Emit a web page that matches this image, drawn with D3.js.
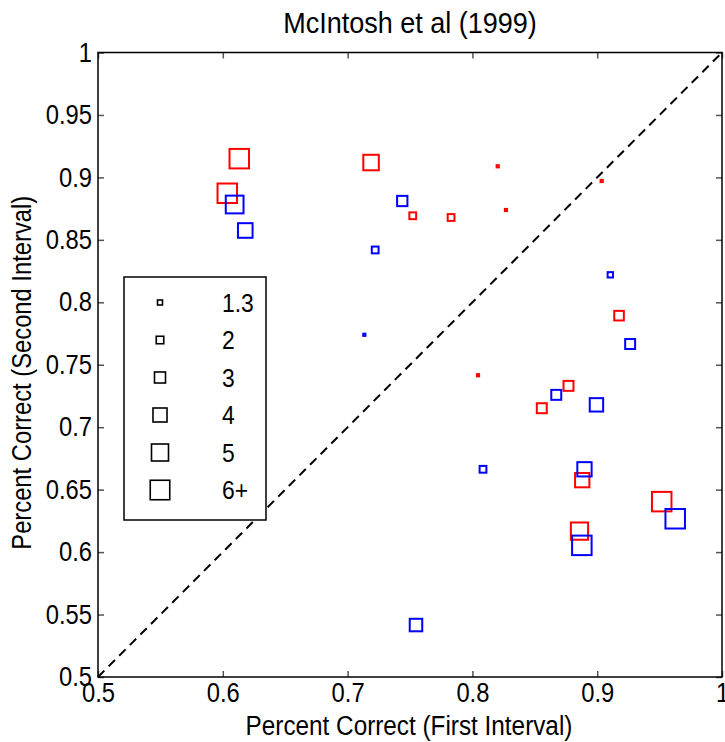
<!DOCTYPE html>
<html>
<head>
<meta charset="utf-8">
<script src="https://cdn.jsdelivr.net/npm/d3@7"></script>
<style>
  html, body { margin: 0; padding: 0; background: #fff; }
  svg { display: block; font-family: "Liberation Sans", Arial, sans-serif; }
</style>
</head>
<body>
<svg id="chart" width="725" height="742"></svg>
<script>
// ---- data ----
const titleText = "McIntosh et al (1999)";
const xLabel = "Percent Correct (First Interval)";
const yLabel = "Percent Correct (Second Interval)";

const xTicks = [0.5, 0.6, 0.7, 0.8, 0.9, 1];
const xTickLabels = ["0.5", "0.6", "0.7", "0.8", "0.9", "1"];
const yTicks = [0.5, 0.55, 0.6, 0.65, 0.7, 0.75, 0.8, 0.85, 0.9, 0.95, 1];
const yTickLabels = ["0.5", "0.55", "0.6", "0.65", "0.7", "0.75", "0.8", "0.85", "0.9", "0.95", "1"];

const redX    = [0.6132, 0.6036, 0.7188, 0.7522, 0.7829, 0.8203, 0.8269, 0.9036, 0.8045, 0.9175, 0.8770, 0.8556, 0.8880, 0.8858, 0.9517];
const redY    = [0.9150, 0.8873, 0.9119, 0.8693, 0.8679, 0.9089, 0.8739, 0.8971, 0.7416, 0.7893, 0.7331, 0.7152, 0.6576, 0.6168, 0.6404];
const redSize = [6, 6, 4.5, 1.8, 1.8, 1, 1, 1, 1, 2.6, 2.7, 2.7, 4.1, 5.1, 6];

const blueX    = [0.6095, 0.6180, 0.7438, 0.7221, 0.7134, 0.9105, 0.9264, 0.8672, 0.8994, 0.8898, 0.8085, 0.8877, 0.9625, 0.7548];
const blueY    = [0.8783, 0.8575, 0.8811, 0.8419, 0.7740, 0.8220, 0.7666, 0.7259, 0.7179, 0.6663, 0.6663, 0.6054, 0.6267, 0.5416];
const blueSize = [5.3, 4.2, 2.8, 1.8, 1, 1.4, 2.7, 2.7, 3.8, 4.1, 1.8, 6, 6, 3.5];

const legendValues = [1.3, 2, 3, 4, 5, 6];
const legendLabels = ["1.3", "2", "3", "4", "5", "6+"];

// ---- layout ----
const svg = d3.select("#chart");
const L = 98, R = 722, T = 52.5, B = 677;

const x = d3.scaleLinear().domain([0.5, 1]).range([L, R]);
const y = d3.scaleLinear().domain([0.5, 1]).range([B, T]);
const side = d3.scaleLinear().domain([1, 1.3, 2, 3, 4, 5, 6]).range([2.2, 5, 7.5, 11, 14, 17, 19.5]);

// horizontally condense text (reference glyphs are tall and narrow)
function condense(sel, f) {
  sel.each(function () {
    const len = this.getComputedTextLength();
    d3.select(this).attr("textLength", len * f).attr("lengthAdjust", "spacingAndGlyphs");
  });
}

svg.append("rect").attr("width", 725).attr("height", 742).attr("fill", "#fff");

const tickColor = "#555";
function styleAxis(g) {
  g.select(".domain").remove();
  g.selectAll(".tick line").attr("stroke", tickColor).attr("stroke-width", 1.5);
  g.selectAll(".tick text").attr("fill", "#000").attr("font-size", 27)
    .attr("font-family", "Liberation Sans, Arial, sans-serif");
}
const gx = svg.append("g").attr("transform", `translate(0,${B})`)
  .call(d3.axisBottom(x).tickValues(xTicks).tickSizeInner(-6).tickSizeOuter(0).tickPadding(6)
        .tickFormat((d, i) => xTickLabels[i]))
  .call(styleAxis);
const gy = svg.append("g").attr("transform", `translate(${L},0)`)
  .call(d3.axisLeft(y).tickValues(yTicks).tickSizeInner(-6).tickSizeOuter(0).tickPadding(6)
        .tickFormat((d, i) => yTickLabels[i]))
  .call(styleAxis);
svg.append("g").attr("transform", `translate(0,${T})`)
  .call(d3.axisTop(x).tickValues(xTicks).tickSizeInner(-6).tickSizeOuter(0).tickFormat(""))
  .call(styleAxis);
svg.append("g").attr("transform", `translate(${R},0)`)
  .call(d3.axisRight(y).tickValues(yTicks).tickSizeInner(-6).tickSizeOuter(0).tickFormat(""))
  .call(styleAxis);
condense(gx.selectAll(".tick text"), 0.88);
condense(gy.selectAll(".tick text"), 0.88);

svg.append("rect").attr("x", L).attr("y", T).attr("width", R - L).attr("height", B - T)
  .attr("fill", "none").attr("stroke", "#000").attr("stroke-width", 1.5);

svg.append("line")
  .attr("x1", x(0.5)).attr("y1", y(0.5)).attr("x2", x(1)).attr("y2", y(1))
  .attr("stroke", "#000").attr("stroke-width", 2).attr("stroke-dasharray", "9,6");

function drawSeries(xs, ys, ss, color) {
  const data = xs.map((v, i) => ({ x: v, y: ys[i], s: ss[i] }));
  svg.append("g").selectAll("rect").data(data).join("rect")
    .attr("x", d => x(d.x) - side(d.s) / 2)
    .attr("y", d => y(d.y) - side(d.s) / 2)
    .attr("width", d => side(d.s))
    .attr("height", d => side(d.s))
    .attr("fill", "none")
    .attr("stroke", color)
    .attr("stroke-width", 2);
}
drawSeries(redX, redY, redSize, "#ff0000");
drawSeries(blueX, blueY, blueSize, "#0000ff");

// legend
const lg = svg.append("g");
lg.append("rect").attr("x", 124).attr("y", 277).attr("width", 142).attr("height", 243)
  .attr("fill", "#fff").attr("stroke", "#000").attr("stroke-width", 1.5);
const rowY = d3.scaleLinear().domain([0, legendValues.length - 1]).range([302.5, 490]);
legendValues.forEach((v, i) => {
  const s = side(v);
  lg.append("rect").attr("x", 160 - s / 2).attr("y", rowY(i) - s / 2)
    .attr("width", s).attr("height", s)
    .attr("fill", "none").attr("stroke", "#000").attr("stroke-width", 1.6);
  const t = lg.append("text").attr("x", 222).attr("y", rowY(i)).attr("dy", "0.36em")
    .attr("font-size", 26).attr("fill", "#000").text(legendLabels[i]);
  condense(t, 0.88);
});

// titles
condense(svg.append("text").attr("x", 410).attr("y", 33).attr("text-anchor", "middle")
  .attr("font-size", 30).attr("fill", "#000").text(titleText), 0.9);
condense(svg.append("text").attr("x", 409).attr("y", 735).attr("text-anchor", "middle")
  .attr("font-size", 27).attr("fill", "#000").text(xLabel), 0.9);
condense(svg.append("text").attr("transform", `translate(31,${(T + B) / 2 + 8}) rotate(-90)`)
  .attr("text-anchor", "middle").attr("font-size", 27).attr("fill", "#000").text(yLabel), 0.88);
</script>
</body>
</html>
